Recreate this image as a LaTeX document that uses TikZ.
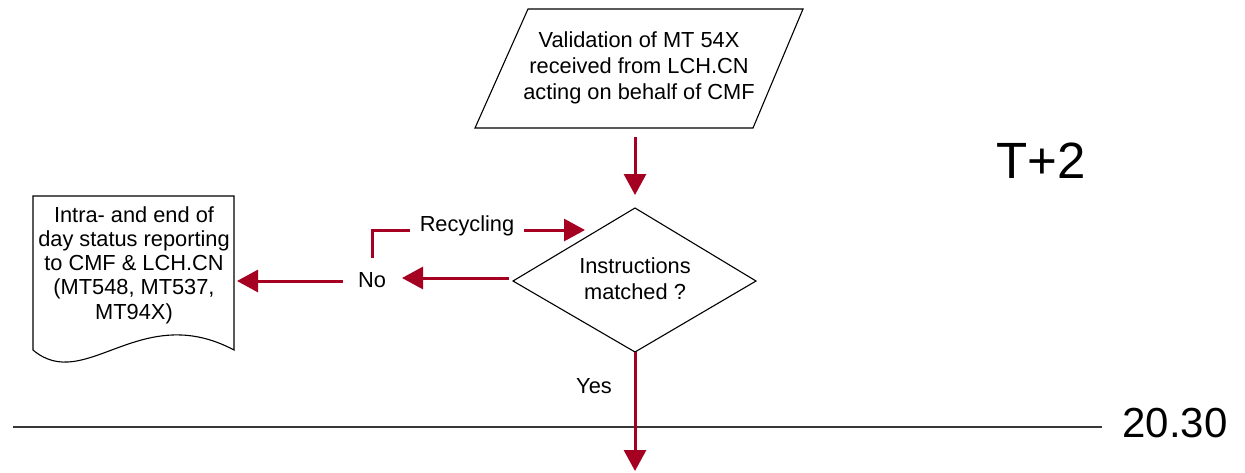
\documentclass[tikz,border=0pt]{standalone}
\usepackage{fontspec}
\setmainfont{Liberation Sans}
\usetikzlibrary{arrows.meta}
\definecolor{flowred}{RGB}{165,0,33}
\definecolor{rulegray}{RGB}{55,55,55}
\begin{document}
\begin{tikzpicture}[x=1pt,y=-1pt,
  shapeline/.style={draw=black,line width=1.1pt,line join=miter},
  flowline/.style={draw=flowred,line width=3pt,line join=miter},
  flow/.style={flowline,-{Triangle[length=21pt,width=22pt]}},
  lbl/.style={font=\fontsize{21.8}{26}\selectfont,align=center,inner sep=0pt},
  doclbl/.style={font=\fontsize{21.8}{24.2}\selectfont,align=center,inner sep=0pt},
  big/.style={font=\fontsize{51}{60}\selectfont,inner sep=0pt},
  timelbl/.style={font=\fontsize{42}{50}\selectfont,inner sep=0pt}]
\useasboundingbox (0,0) rectangle (1245,472);

% input: validation of incoming messages
\draw[shapeline] (528,9) -- (803,9) -- (753,128) -- (475,128) -- cycle;
\node[lbl] (valid) at (639,68) {Validation of MT 54X\\received from LCH.CN\\acting on behalf of CMF};

% decision
\draw[shapeline] (635,208) -- (756,281) -- (635,352) -- (513,281) -- cycle;
\node[lbl] (match) at (635,279) {Instructions\\matched ?};

% output document with wavy bottom
\draw[shapeline] (33,350) -- (33,196) -- (234,196) -- (234,350)
  .. controls (140,300) and (85,394) .. (33,350) -- cycle;
\node[doclbl] (report) at (134,265) {Intra- and end of\\day status reporting\\to CMF \& LCH.CN\\(MT548, MT537,\\MT94X)};

% branch labels
\node[lbl] (no) at (372,280) {No};
\node[lbl] (recyc) at (467,226) {Recycling};
\node[lbl] (yes) at (594,386) {Yes};

% day and cut-off time
\node[big] (day) at (1041,161) {T+2};
\node[timelbl] (cutoff) at (1175,423) {20.30};
\coordinate (ruleL) at (13,427);
\coordinate (ruleR) at (1102,427);
\draw[draw=rulegray,line width=1.5pt] (ruleL) -- (ruleR);

% connector end points
\coordinate (validOut) at (635,137);
\coordinate (matchIn) at (635,195);
\coordinate (matchLeft) at (509,278);
\coordinate (noIn) at (402,278);
\coordinate (noOut) at (343,281);
\coordinate (reportIn) at (237,281);
\coordinate (noTop) at (372,258);
\coordinate (recycIn) at (410,230);
\coordinate (recycOut) at (524,230);
\coordinate (matchRecyc) at (585,230);
\coordinate (matchBottom) at (635,352);
\coordinate (nextStep) at (635,471);

% connectors
\draw[flow] (validOut) -- (matchIn);
\draw[flow] (matchLeft) -- (noIn);
\draw[flow] (noOut) -- (reportIn);
\draw[flowline] (noTop) |- (recycIn);
\draw[flow] (recycOut) -- (matchRecyc);
\draw[flow] (matchBottom) -- (nextStep);
\end{tikzpicture}
\end{document}
